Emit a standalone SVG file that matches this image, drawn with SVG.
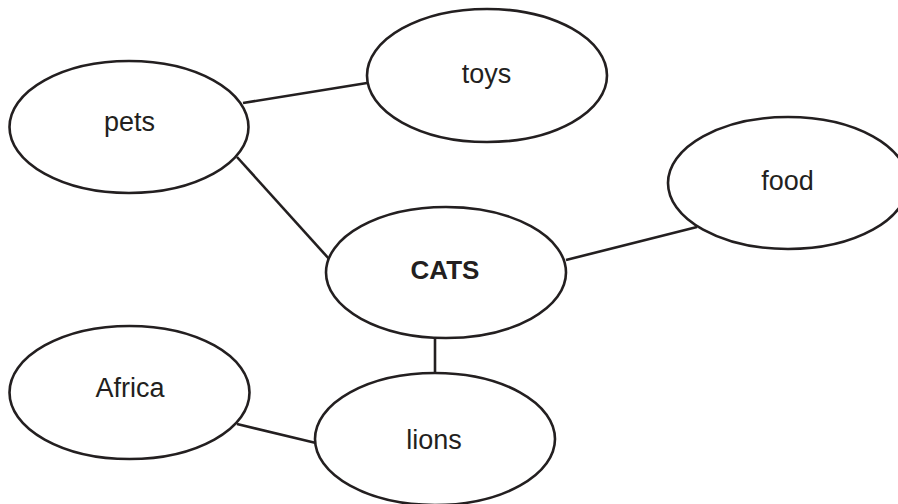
<svg xmlns="http://www.w3.org/2000/svg" width="898" height="504" viewBox="0 0 898 504">
<style>
.n ellipse{fill:#fff;stroke:#231f20;stroke-width:2.6}
.n text{font-family:"Liberation Sans",Arial,Helvetica,sans-serif;font-size:27px;fill:#231f20;text-anchor:middle}
.n text.b{font-weight:bold;font-size:26px}
#connectors line{stroke:#231f20;stroke-width:2.6}
</style>
<rect width="898" height="504" fill="#fff"/>
<g id="connectors">
<line x1="243" y1="103" x2="367" y2="83"/>
<line x1="237" y1="157" x2="330" y2="260"/>
<line x1="566" y1="260" x2="697" y2="227"/>
<line x1="435" y1="338" x2="435" y2="373"/>
<line x1="237" y1="424" x2="316" y2="443"/>
</g>
<g id="pets" class="n"><ellipse cx="129" cy="127" rx="119.5" ry="66"/><text x="129.5" y="131">pets</text></g>
<g id="toys" class="n"><ellipse cx="487" cy="75.5" rx="120" ry="66.5"/><text x="486.5" y="83">toys</text></g>
<g id="food" class="n"><ellipse cx="788" cy="183" rx="120" ry="66"/><text x="787.5" y="189.5">food</text></g>
<g id="cats" class="n"><ellipse cx="446" cy="272.5" rx="120" ry="65.5"/><text class="b" x="445" y="279">CATS</text></g>
<g id="africa" class="n"><ellipse cx="129.5" cy="392.5" rx="120" ry="66.5"/><text x="130" y="396.5">Africa</text></g>
<g id="lions" class="n"><ellipse cx="435" cy="439" rx="120" ry="66"/><text x="434" y="448.5">lions</text></g>
</svg>
